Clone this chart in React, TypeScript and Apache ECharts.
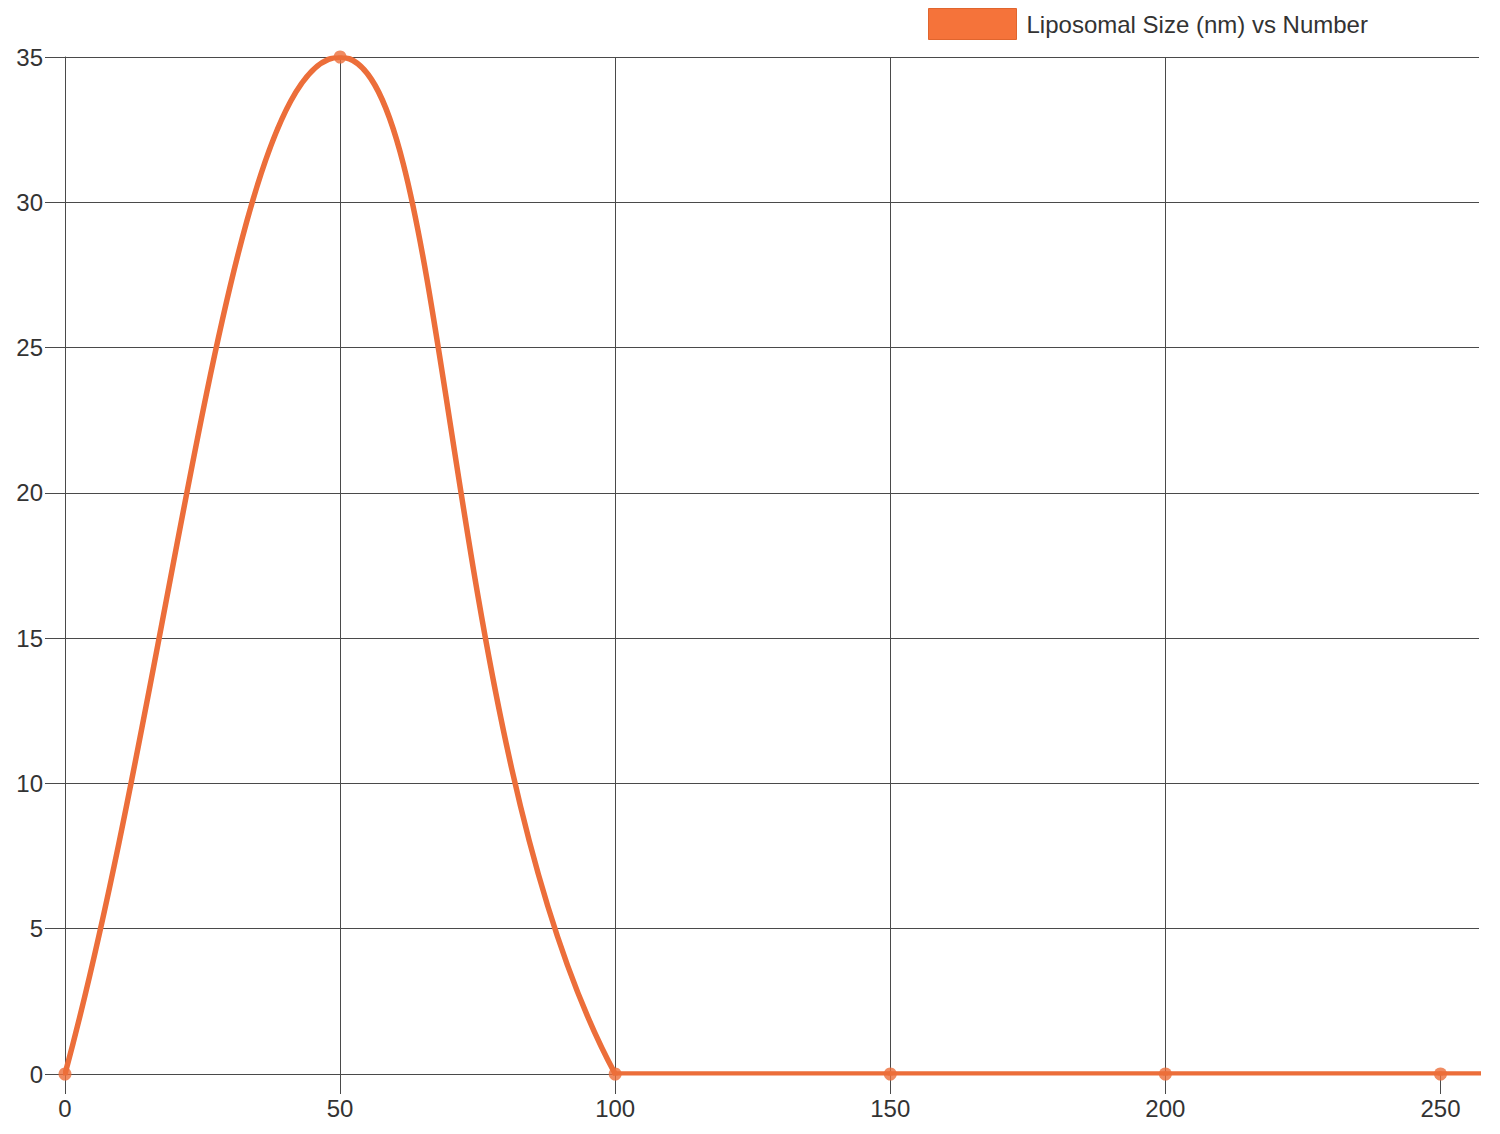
import React, { useEffect, useRef } from 'react';
import * as echarts from 'echarts';

// ---- data ----
const sizes = [0, 50, 100, 150, 200, 250, 300];
const counts = [0, 35, 0, 0, 0, 0, 0];
const xTicks = [0, 50, 100, 150, 200, 250];
const seriesName = 'Liposomal Size (nm) vs Number';

// ---- styles ----
const LINE = '#ec6e3a';
const LEGEND_FILL = '#f5733a';
const GRID = '#4a4a4a';
const FONT = '"Liberation Sans", Helvetica, Arial, sans-serif';
const TENSION = 0.4;
const X_MAX = 257;

export default function App() {
  const ref = useRef<HTMLDivElement>(null);

  useEffect(() => {
    const chart = echarts.init(ref.current!, undefined, { renderer: 'svg' });
    const data = sizes.map((s, i) => [s, counts[i]]);

    const renderItem = (params: any, api: any) => {
      const i = params.dataIndex;
      if (i >= data.length - 1) return null;
      const cs = params.coordSys;
      const T = cs.y;
      const B = cs.y + cs.height;
      const pts = data.map((d) => api.coord(d));
      const cap = (v: number, lo: number, hi: number) => Math.max(Math.min(v, hi), lo);
      const ctrl = (k: number) => {
        const cur = pts[k];
        const prev = pts[k - 1] || cur;
        const next = pts[k + 1] || cur;
        const d01 = Math.hypot(cur[0] - prev[0], cur[1] - prev[1]);
        const d12 = Math.hypot(next[0] - cur[0], next[1] - cur[1]);
        const tot = d01 + d12;
        const s01 = tot ? d01 / tot : 0;
        const s12 = tot ? d12 / tot : 0;
        const fa = TENSION * s01;
        const fb = TENSION * s12;
        const dx = next[0] - prev[0];
        const dy = next[1] - prev[1];
        return {
          prev: [cur[0] - fa * dx, cap(cur[1] - fa * dy, T, B)],
          next: [cur[0] + fb * dx, cap(cur[1] + fb * dy, T, B)],
        };
      };
      const a = pts[i];
      const b = pts[i + 1];
      const ca = ctrl(i);
      const cb = ctrl(i + 1);
      return {
        type: 'bezierCurve',
        shape: {
          x1: a[0], y1: a[1], x2: b[0], y2: b[1],
          cpx1: ca.next[0], cpy1: ca.next[1],
          cpx2: cb.prev[0], cpy2: cb.prev[1],
        },
        style: { fill: 'none', stroke: LINE, lineWidth: 5.5, lineCap: 'round' },
      };
    };

    const axisLabelBase = { fontSize: 24, color: '#333', fontFamily: FONT };

    chart.setOption({
      animation: false,
      backgroundColor: '#ffffff',
      grid: { left: 65, right: 21, top: 57, bottom: 60, containLabel: false, outerBoundsMode: 'none' },
      legend: {
        show: true,
        left: 923,
        top: 3,
        itemWidth: 88,
        itemHeight: 31,
        icon: 'rect',
        data: [
          {
            name: seriesName,
            icon: 'rect',
            itemStyle: { color: LEGEND_FILL, borderColor: '#e0652e', borderWidth: 1 },
          },
        ],
        textStyle: { fontSize: 24, color: '#333', fontFamily: FONT, padding: [0, 0, 0, 5] },
      },
      xAxis: {
        type: 'value',
        min: 0,
        max: X_MAX,
        interval: 50,
        axisLine: { show: true, onZero: false, lineStyle: { color: GRID, width: 1 } },
        axisTick: { show: true, length: 20, customValues: xTicks, lineStyle: { color: GRID, width: 1 } },
        axisLabel: { ...axisLabelBase, customValues: xTicks, margin: 22 },
        splitLine: { show: true, showMaxLine: false, lineStyle: { color: GRID, width: 1 } },
      },
      yAxis: {
        type: 'value',
        min: 0,
        max: 35,
        interval: 5,
        axisLine: { show: true, lineStyle: { color: GRID, width: 1 } },
        axisTick: { show: true, length: 20, lineStyle: { color: GRID, width: 1 } },
        axisLabel: { ...axisLabelBase, margin: 22 },
        splitLine: { show: true, lineStyle: { color: GRID, width: 1 } },
      },
      series: [
        {
          name: seriesName,
          type: 'custom',
          coordinateSystem: 'cartesian2d',
          clip: true,
          lineStyle: { width: 3 },
          itemStyle: { color: LEGEND_FILL },
          renderItem,
          encode: { x: 0, y: 1 },
          data,
          z: 3,
        },
        {
          name: seriesName,
          type: 'scatter',
          clip: false,
          symbol: 'circle',
          symbolSize: 13,
          itemStyle: { color: LINE },
          data: data.filter((d) => d[0] <= X_MAX),
          z: 4,
        },
      ],
    });

    return () => chart.dispose();
  }, []);

  return (
    <div
      ref={ref}
      style={{ position: 'fixed', left: 0, top: 0, width: 1500, height: 1134, background: '#fff' }}
    />
  );
}
